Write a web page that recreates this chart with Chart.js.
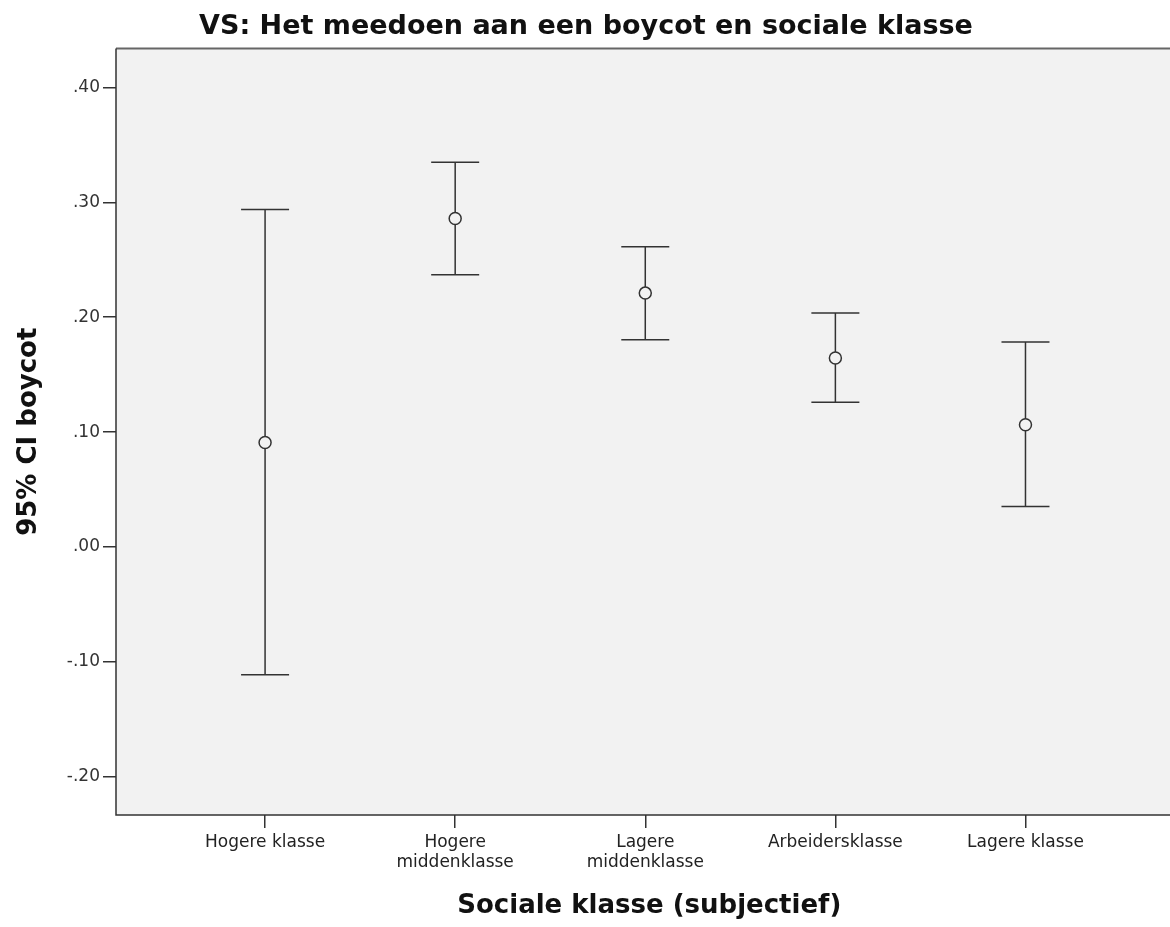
<!DOCTYPE html>
<html>
<head>
<meta charset="utf-8">
<script src="https://cdn.jsdelivr.net/npm/chart.js@4"></script>
<style>
  html, body { margin: 0; padding: 0; background: #fff; overflow: hidden; }
  #wrap { width: 1190px; height: 927px; }
</style>
</head>
<body>
<div id="wrap"><canvas id="ciChart" width="1190" height="927"></canvas></div>
<script>
  const categories = [
    ['Hogere klasse'],
    ['Hogere', 'middenklasse'],
    ['Lagere', 'middenklasse'],
    ['Arbeidersklasse'],
    ['Lagere klasse']
  ];
  const means = [0.091, 0.286, 0.221, 0.1645, 0.1064];
  const upper = [0.2937, 0.335, 0.2614, 0.2037, 0.1784];
  const lower = [-0.1112, 0.237, 0.1804, 0.1259, 0.0353];
  const yTicks = [-0.2, -0.1, 0, 0.1, 0.2, 0.3, 0.4];

  const fmt = v => {
    const s = Math.abs(v).toFixed(2).replace(/^0/, '');
    return (v < -1e-9 ? '-' : '') + s;
  };

  // plot background + frame
  const plotFrame = {
    id: 'plotFrame',
    beforeDraw(chart) {
      const a = chart.chartArea, c = chart.ctx;
      c.save();
      c.fillStyle = '#f2f2f2';
      c.fillRect(a.left, a.top, a.right - a.left, a.bottom - a.top);
      c.restore();
    },
    afterDraw(chart) {
      const a = chart.chartArea, c = chart.ctx;
      c.save();
      c.strokeStyle = '#666';
      c.lineWidth = 2;
      c.beginPath();
      c.moveTo(a.left, a.top);
      c.lineTo(a.right, a.top);
      c.stroke();
      c.strokeStyle = '#333';
      c.lineWidth = 1.5;
      c.beginPath();
      c.moveTo(a.left, a.top);
      c.lineTo(a.left, a.bottom);
      c.lineTo(a.right, a.bottom);
      c.stroke();
      c.restore();
    }
  };

  // whiskers and caps from the data arrays
  const errorBars = {
    id: 'errorBars',
    beforeDatasetsDraw(chart) {
      const xs = chart.scales.x, ys = chart.scales.y, c = chart.ctx;
      c.save();
      c.strokeStyle = '#333';
      c.lineWidth = 1.5;
      means.forEach((m, i) => {
        const x = xs.getPixelForValue(i);
        const yHi = ys.getPixelForValue(upper[i]);
        const yLo = ys.getPixelForValue(lower[i]);
        c.beginPath();
        c.moveTo(x, yHi); c.lineTo(x, yLo);
        c.moveTo(x - 24, yHi); c.lineTo(x + 24, yHi);
        c.moveTo(x - 24, yLo); c.lineTo(x + 24, yLo);
        c.stroke();
      });
      c.restore();
    }
  };

  new Chart(document.getElementById('ciChart').getContext('2d'), {
    type: 'scatter',
    data: {
      datasets: [{
        data: means.map((m, i) => ({ x: i, y: m })),
        pointStyle: 'circle',
        pointRadius: 6,
        pointHoverRadius: 6,
        pointBorderWidth: 1.5,
        pointBorderColor: '#333',
        pointBackgroundColor: '#f2f2f2'
      }]
    },
    options: {
      responsive: false,
      animation: false,
      // negative left padding pulls the centred title left a little
      layout: { padding: { left: -18, right: 0, top: 0, bottom: 0 } },
      plugins: {
        legend: { display: false },
        tooltip: { enabled: false },
        title: {
          display: true,
          text: 'VS: Het meedoen aan een boycot en sociale klasse',
          color: '#111',
          font: { family: 'DejaVu Sans', size: 27, weight: 'bold' },
          padding: { top: 11, bottom: 5 }
        }
      },
      scales: {
        x: {
          type: 'linear',
          min: -0.7842,
          max: 4.826,
          afterBuildTicks: s => { s.ticks = categories.map((_, i) => ({ value: i })); },
          afterFit: s => { s.height = 112; s.paddingLeft = 0; s.paddingRight = 0; },
          grid: { drawOnChartArea: false, drawTicks: true, tickLength: 13, color: '#333', lineWidth: 1.5 },
          border: { display: false },
          ticks: {
            autoSkip: false,
            maxRotation: 0,
            padding: 5,
            color: '#222',
            font: { family: 'DejaVu Sans', size: 17, lineHeight: 1.15 },
            callback: v => categories[v]
          },
          title: {
            display: true,
            text: 'Sociale klasse (subjectief)',
            color: '#111',
            font: { family: 'DejaVu Sans', size: 26, weight: 'bold' },
            padding: { top: 0, bottom: 5 }
          }
        },
        y: {
          min: -0.2333,
          max: 0.434,
          afterBuildTicks: s => { s.ticks = yTicks.map(v => ({ value: v })); },
          afterFit: s => { s.width = 134; s.paddingTop = 0; s.paddingBottom = 0; },
          grid: { drawOnChartArea: false, drawTicks: true, tickLength: 13, color: '#333', lineWidth: 1.5 },
          border: { display: false },
          ticks: {
            padding: 3,
            color: '#333',
            font: { family: 'DejaVu Sans', size: 17 },
            callback: v => fmt(v)
          },
          title: {
            display: true,
            text: '95% CI boycot',
            color: '#111',
            font: { family: 'DejaVu Sans', size: 26, weight: 'bold' },
            padding: { top: 32, bottom: 0 }
          }
        }
      }
    },
    plugins: [plotFrame, errorBars]
  });
</script>
</body>
</html>
